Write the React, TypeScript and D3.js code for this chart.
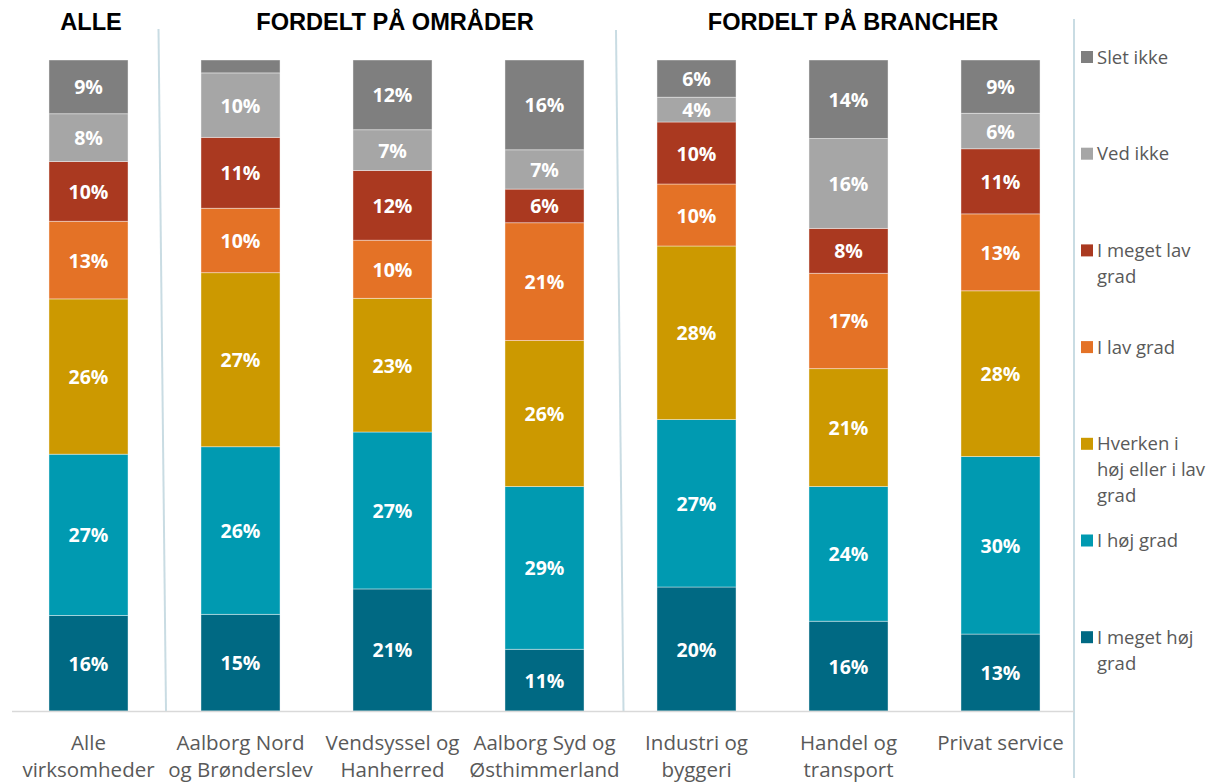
import React from "react";
import * as d3 from "d3";

const categories: string[][] = [
  ["Alle", "virksomheder"],
  ["Aalborg Nord", "og Brønderslev"],
  ["Vendsyssel og", "Hanherred"],
  ["Aalborg Syd og", "Østhimmerland"],
  ["Industri og", "byggeri"],
  ["Handel og", "transport"],
  ["Privat service"],
];

const seriesNames = [
  "I meget høj grad",
  "I høj grad",
  "Hverken i høj eller i lav grad",
  "I lav grad",
  "I meget lav grad",
  "Ved ikke",
  "Slet ikke",
];

const meget_hoej = [16, 15, 21, 11, 20, 16, 13];
const hoej = [27, 26, 27, 29, 27, 24, 30];
const hverken = [26, 27, 23, 26, 28, 21, 28];
const lav = [13, 10, 10, 21, 10, 17, 13];
const meget_lav = [10, 11, 12, 6, 10, 8, 11];
const ved_ikke = [8, 10, 7, 7, 4, 16, 6];
const slet_ikke = [9, 2, 12, 16, 6, 14, 9];

const seriesValues = [meget_hoej, hoej, hverken, lav, meget_lav, ved_ikke, slet_ikke];

const colors = ["#006983", "#009AB1", "#CC9900", "#E47226", "#AA3920", "#A6A6A6", "#7F7F7F"];

const legendLabels: string[][] = [
  ["Slet ikke"],
  ["Ved ikke"],
  ["I meget lav", "grad"],
  ["I lav grad"],
  ["Hverken i", "høj eller i lav", "grad"],
  ["I høj grad"],
  ["I meget høj", "grad"],
];
const legendColors = ["#7F7F7F", "#A6A6A6", "#AA3920", "#E47226", "#CC9900", "#009AB1", "#006983"];

const headers = [
  { text: "ALLE", cx: 91 },
  { text: "FORDELT PÅ OMRÅDER", cx: 395 },
  { text: "FORDELT PÅ BRANCHER", cx: 853 },
];

export default function App() {
  const W = 1218;
  const H = 784;
  const top = 60;
  const bottom = 711;

  const keys = seriesNames.map((_, i) => String(i));
  const rows = categories.map((_, ci) => {
    const r: Record<string, number> = {};
    seriesValues.forEach((s, si) => (r[String(si)] = s[ci]));
    return r;
  });
  const stacked = d3.stack<Record<string, number>>().keys(keys).offset(d3.stackOffsetExpand)(rows);

  const x = d3
    .scaleBand<number>()
    .domain(categories.map((_, i) => i))
    .range([12.5, 1076.5])
    .paddingInner(0.48)
    .paddingOuter(0.24);
  const y = d3.scaleLinear().domain([0, 1]).range([bottom, top]);

  const labelFont = "'Open Sans', 'Noto Sans', sans-serif";

  return (
    <svg width={W} height={H} style={{ position: "absolute", left: 0, top: 0, background: "#fff" }}>
      <rect x={0} y={0} width={W} height={H} fill="#fff" />
      <line x1={158.5} y1={29} x2={166} y2={711} stroke="#C9DCE3" strokeWidth={2} />
      <line x1={616} y1={30} x2={623.5} y2={711} stroke="#C9DCE3" strokeWidth={2} />
      <line x1={1074} y1={19} x2={1074} y2={778} stroke="#C9DCE3" strokeWidth={2} />

      {headers.map((h) => (
        <text
          key={h.text}
          x={h.cx}
          y={30}
          textAnchor="middle"
          fontFamily="'Liberation Sans', Arial, sans-serif"
          fontWeight="bold"
          fontSize={23.6}
          fill="#000"
        >
          {h.text}
        </text>
      ))}

      {stacked.map((layer, si) =>
        layer.map((d, ci) => {
          const x0 = x(ci)!;
          const y0 = y(d[1]);
          const h = y(d[0]) - y(d[1]);
          const v = seriesValues[si][ci];
          return (
            <g key={`${si}-${ci}`}>
              <rect x={x0} y={y0} width={x.bandwidth()} height={h} fill={colors[si]} stroke="#ffffff" strokeOpacity={0.5} strokeWidth={0.8} />
              {v >= 3 && (
                <text
                  x={x0 + x.bandwidth() / 2}
                  y={y0 + h / 2 + 7.5}
                  textAnchor="middle"
                  fontFamily={labelFont}
                  fontWeight="bold"
                  fontSize={19.5}
                  fill="#fff"
                >
                  {v}%
                </text>
              )}
            </g>
          );
        })
      )}

      <line x1={12} y1={711.5} x2={1074} y2={711.5} stroke="#D9D9D9" strokeWidth={1.5} />

      {categories.map((lines, ci) => (
        <text
          key={ci}
          x={x(ci)! + x.bandwidth() / 2}
          textAnchor="middle"
          fontFamily={labelFont}
          fontSize={20.5}
          fill="#595959"
        >
          {lines.map((l, li) => (
            <tspan key={li} x={x(ci)! + x.bandwidth() / 2} y={750 + li * 27}>
              {l}
            </tspan>
          ))}
        </text>
      ))}

      {legendLabels.map((lines, i) => {
        const cy = 57 + i * 96.7;
        return (
          <g key={i}>
            <rect x={1081} y={cy - 6} width={12} height={12} fill={legendColors[i]} />
            <text fontFamily={labelFont} fontSize={18.5} fill="#595959">
              {lines.map((l, li) => (
                <tspan key={li} x={1097} y={cy + 6.5 + li * 26}>
                  {l}
                </tspan>
              ))}
            </text>
          </g>
        );
      })}
    </svg>
  );
}
